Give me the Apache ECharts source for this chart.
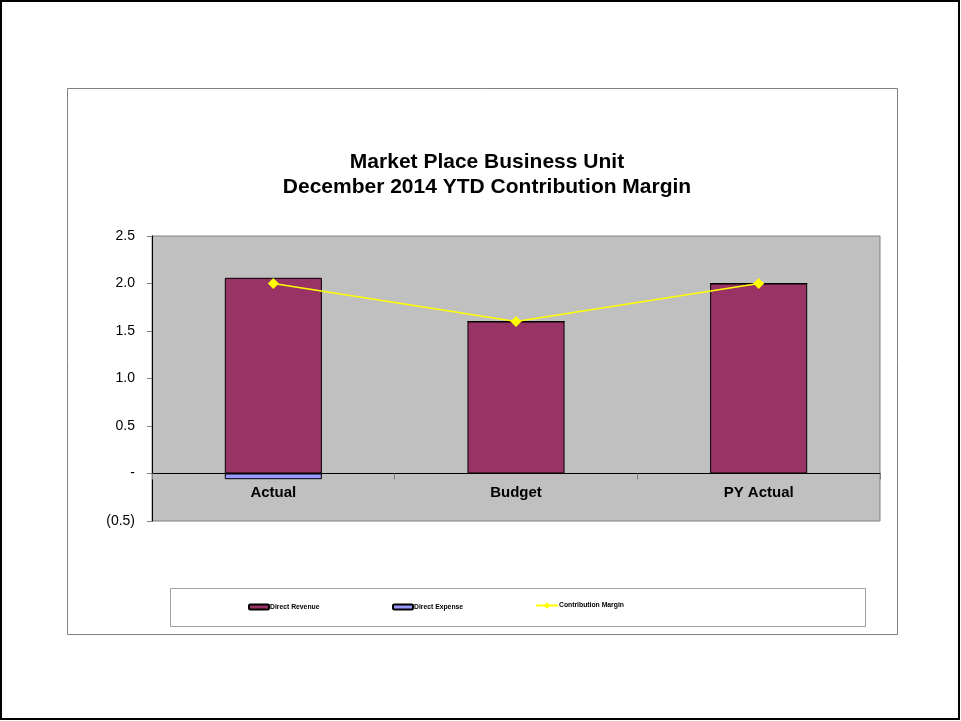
<!DOCTYPE html>
<html>
<head>
<meta charset="utf-8">
<style>
  html, body { margin: 0; padding: 0; background: #fff; }
  #chart { width: 961px; height: 721px; }
</style>
<script src="https://cdn.jsdelivr.net/npm/echarts@6/dist/echarts.min.js"></script>
</head>
<body>
<div id="chart"></div>
<script>
// Categories and values (millions)
const categories = ['Actual', 'Budget', 'PY Actual'];
const directRevenue = [2.06, 1.60, 2.00];
const directExpense = [-0.06, 0, 0];
const contributionMargin = [2.00, 1.60, 2.00];
const yTicks = { min: -0.5, max: 2.5, step: 0.5 };

const FONT = 'Arial, "Liberation Sans", sans-serif';

// Plot box in pixels
const GRID = { left: 152, right: 81, top: 236, bottom: 200 };
const GRID_H = 721 - GRID.top - GRID.bottom;
// Category axis sits on the zero line, labels included
const zeroOffset = GRID_H * (0 - yTicks.min) / (yTicks.max - yTicks.min);

function fmtAxis(v) {
  if (Math.abs(v) < 1e-9) return '-';
  if (v < 0) return '(' + Math.abs(v).toFixed(1) + ')';
  return v.toFixed(1);
}

const chart = echarts.init(document.getElementById('chart'));

function legendAt(left, name, extra) {
  return Object.assign({
    left: left,
    top: 603.5,
    data: [name],
    orient: 'horizontal',
    padding: 0,
    itemWidth: 20,
    itemHeight: 5,
    textStyle: { fontFamily: FONT, fontSize: 6.8, fontWeight: 'bold', color: '#000', padding: [0, 0, 0, -4] }
  }, extra || {});
}

chart.setOption({
  animation: false,
  backgroundColor: '#fff',
  title: {
    text: 'Market Place Business Unit\nDecember 2014 YTD Contribution Margin',
    left: 482,
    top: 145,
    textAlign: 'center',
    textStyle: { fontFamily: FONT, fontSize: 21, fontWeight: 'bold', color: '#000', lineHeight: 25 }
  },
  graphic: [
    { type: 'rect', z: -10, shape: { x: 1, y: 1, width: 958, height: 718 },
      style: { fill: '#fff', stroke: '#000', lineWidth: 2 } },
    { type: 'rect', z: -9, shape: { x: 67.5, y: 88.5, width: 830, height: 546 },
      style: { fill: '#fff', stroke: '#808080', lineWidth: 1 } },
    { type: 'rect', z: -8, shape: { x: 170.5, y: 588.5, width: 695, height: 38 },
      style: { fill: '#fff', stroke: '#a0a0a0', lineWidth: 1 } }
  ],
  legend: [
    legendAt(248, 'Direct Revenue'),
    legendAt(392, 'Direct Expense'),
    legendAt(535, 'Contribution Margin', { itemWidth: 22, itemHeight: 8, top: 602 })
  ],
  grid: {
    left: GRID.left, right: GRID.right, top: GRID.top, bottom: GRID.bottom,
    show: true,
    backgroundColor: '#C0C0C0',
    borderColor: '#808080',
    borderWidth: 1
  },
  xAxis: {
    type: 'category',
    data: categories,
    position: 'bottom',
    offset: -zeroOffset,
    axisLine: { onZero: false, lineStyle: { color: '#000', width: 1 } },
    axisTick: { show: true, length: 6, lineStyle: { color: '#808080' } },
    axisLabel: { fontFamily: FONT, fontSize: 15, fontWeight: 'bold', color: '#000', margin: 12 },
    splitLine: { show: false }
  },
  yAxis: {
    type: 'value',
    min: yTicks.min,
    max: yTicks.max,
    interval: yTicks.step,
    axisLine: { show: true, lineStyle: { color: '#000', width: 1 } },
    axisTick: { show: true, length: 5, lineStyle: { color: '#808080' } },
    axisLabel: { fontFamily: FONT, fontSize: 14, color: '#000', margin: 17, formatter: fmtAxis },
    splitLine: { show: false }
  },
  series: [
    {
      name: 'Direct Revenue',
      type: 'bar',
      stack: 'cm',
      barWidth: '40%',
      data: directRevenue,
      itemStyle: { color: '#993366', borderColor: '#000', borderWidth: 1 }
    },
    {
      name: 'Direct Expense',
      type: 'bar',
      stack: 'cm',
      barWidth: '40%',
      data: directExpense,
      itemStyle: { color: '#9999FF', borderColor: '#000', borderWidth: 1 }
    },
    {
      name: 'Contribution Margin',
      type: 'line',
      data: contributionMargin,
      symbol: 'diamond',
      symbolSize: 11,
      lineStyle: { color: '#FFFF00', width: 1.5 },
      itemStyle: { color: '#FFFF00' },
      z: 5
    }
  ]
});
</script>
</body>
</html>
